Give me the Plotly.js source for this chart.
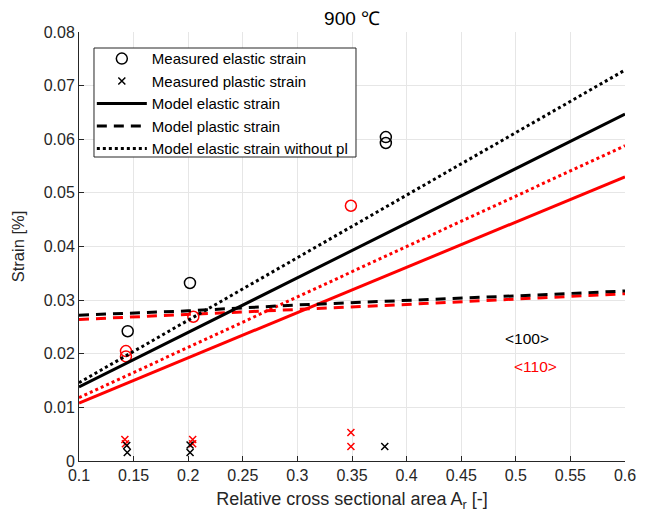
<!DOCTYPE html>
<html><head><meta charset="utf-8">
<script src="https://cdn.plot.ly/plotly-3.0.1.min.js"></script>
<style>body{margin:0;padding:0;background:#fff;} #chart{width:646px;height:518px;}</style>
</head><body><div id="chart"></div>
<script>
// Measured elastic strain (circles)
const measElX100 = [0.1446, 0.2016, 0.381, 0.381];
const measEl100  = [0.0242, 0.0332, 0.0604, 0.0593];
const measElX110 = [0.143, 0.143, 0.2047, 0.349];
const measEl110  = [0.0205, 0.0195, 0.0269, 0.0476];
// Measured plastic strain (crosses)
const measPlX100 = [0.1437, 0.1442, 0.2017, 0.2017, 0.380];
const measPl100  = [0.0029, 0.0016, 0.0030, 0.0016, 0.0027];
const measPlX110 = [0.142, 0.1425, 0.2041, 0.2041, 0.349, 0.349];
const measPl110  = [0.0040, 0.0032, 0.0040, 0.0032, 0.0053, 0.0027];
// Model curves
const modelX = [0.1, 0.6];
const modelEl100     = [0.0138, 0.0647];
const modelElNoPl100 = [0.0146, 0.0729];
const modelEl110     = [0.0108, 0.0530];
const modelElNoPl110 = [0.0118, 0.0588];
const modelPlX   = [0.1, 0.2, 0.3, 0.4, 0.5, 0.6];
const modelPl100 = [0.0272, 0.0280, 0.0291, 0.0299, 0.0308, 0.0317];
const modelPl110 = [0.0264, 0.0273, 0.0283, 0.0292, 0.0302, 0.0312];
// Ticks
const xTicks = [0.1,0.15,0.2,0.25,0.3,0.35,0.4,0.45,0.5,0.55,0.6];
const xTickText = ['0.1','0.15','0.2','0.25','0.3','0.35','0.4','0.45','0.5','0.55','0.6'];
const yTicks = [0,0.01,0.02,0.03,0.04,0.05,0.06,0.07,0.08];
const yTickText = ['0','0.01','0.02','0.03','0.04','0.05','0.06','0.07','0.08'];
const labels = ['Measured elastic strain','Measured plastic strain','Model elastic strain','Model plastic strain','Model elastic strain without pl'];
const orientations = ['<100>','<110>'];

const BLK = '#000000', RED = '#ff0000';
const FONT = 'Liberation Sans, Arial, Helvetica, sans-serif';
const circ = c => ({symbol:'circle-open', size:11, color:c, line:{width:1.5, color:c}});
const cross = c => ({symbol:'x-thin-open', size:7, color:c, line:{width:1.5, color:c}});
const esc = s => s.replace('<','&lt;').replace('>','&gt;');

const traces = [
  {x:modelX, y:modelEl110, mode:'lines', line:{color:RED, width:3}, showlegend:false, hoverinfo:'skip'},
  {x:modelX, y:modelElNoPl110, mode:'lines', line:{color:RED, width:3, dash:'3px,3px'}, showlegend:false, hoverinfo:'skip'},
  {x:modelPlX, y:modelPl110, mode:'lines', line:{color:RED, width:3, dash:'10px,7px'}, showlegend:false, hoverinfo:'skip'},
  {x:measElX110, y:measEl110, mode:'markers', marker:circ(RED), showlegend:false},
  {x:measPlX110, y:measPl110, mode:'markers', marker:cross(RED), showlegend:false},
  {x:measElX100, y:measEl100, mode:'markers', marker:circ(BLK), name:labels[0]},
  {x:measPlX100, y:measPl100, mode:'markers', marker:cross(BLK), name:labels[1]},
  {x:modelX, y:modelEl100, mode:'lines', line:{color:BLK, width:3}, name:labels[2]},
  {x:modelPlX, y:modelPl100, mode:'lines', line:{color:BLK, width:3, dash:'10px,7px'}, name:labels[3]},
  {x:modelX, y:modelElNoPl100, mode:'lines', line:{color:BLK, width:3, dash:'3px,3px'}, name:labels[4]}
];

const layout = {
  width:646, height:518,
  margin:{l:79, r:21, t:32, b:57, pad:0},
  paper_bgcolor:'#fff', plot_bgcolor:'#fff',
  font:{family:FONT, size:16, color:'#262626'},
  title:{text:'900 \u2103', font:{family:FONT, size:19, color:'#000'}, x:0.545, xanchor:'center', y:0.965, yanchor:'middle'},
  xaxis:{range:[0.1,0.6], tickvals:xTicks, ticktext:xTickText, showgrid:true, gridcolor:'#e6e6e6', gridwidth:1,
    showline:true, linecolor:'#262626', linewidth:1, ticks:'inside', ticklen:5, tickcolor:'#262626', zeroline:false,
    tickfont:{family:FONT, size:16, color:'#262626'},
    title:{text:'Relative cross sectional area A<sub>r</sub> [-]', font:{family:FONT, size:18, color:'#262626'}, standoff:9}},
  yaxis:{range:[0,0.08], tickvals:yTicks, ticktext:yTickText, showgrid:true, gridcolor:'#e6e6e6', gridwidth:1,
    showline:true, linecolor:'#262626', linewidth:1, ticks:'inside', ticklen:5, tickcolor:'#262626', zeroline:false,
    tickfont:{family:FONT, size:16, color:'#262626'},
    title:{text:'Strain [%]', font:{family:FONT, size:16.5, color:'#262626'}, standoff:14}},
  legend:{x:0.0235, y:0.976, xanchor:'left', yanchor:'top', bgcolor:'rgba(0,0,0,0)', borderwidth:0,
    font:{family:FONT, size:15, color:'#000'}, itemwidth:50, tracegroupgap:0},
  shapes:[
    {type:'rect', xref:'paper', yref:'paper', x0:0.02747, x1:0.5073, y0:0.7086, y1:0.9627,
     line:{color:'#262626', width:1}, fillcolor:'#ffffff', layer:'above'}
  ],
  annotations:[
    {x:0.510, y:0.0228, xref:'x', yref:'y', text:esc(orientations[0]), showarrow:false, font:{family:FONT, size:15.5, color:BLK}},
    {x:0.5176, y:0.0177, xref:'x', yref:'y', text:esc(orientations[1]), showarrow:false, font:{family:FONT, size:15.5, color:RED}}
  ],
  showlegend:true
};
Plotly.newPlot('chart', traces, layout, {displayModeBar:false, staticPlot:true});
</script>
</body></html>
